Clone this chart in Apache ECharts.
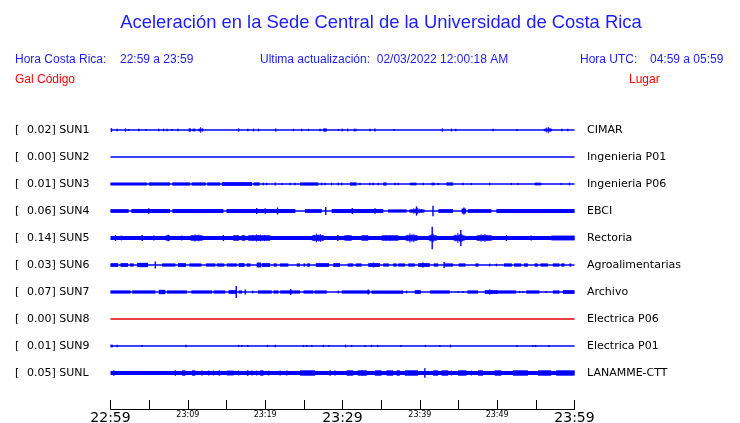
<!DOCTYPE html>
<html>
<head>
<meta charset="utf-8">
<script src="https://cdn.jsdelivr.net/npm/echarts@6/dist/echarts.min.js"></script>
<style>
  html, body { margin: 0; padding: 0; background: #fff; }
  #chart { width: 740px; height: 423px; }
</style>
</head>
<body>
<div id="chart"></div>
<script>
// time axis: minutes after 22:59 (hora Costa Rica)
let tickLabels = ['22:59', '', '23:09', '', '23:19', '', '23:29', '', '23:39', '', '23:49', '', '23:59']
let majorLabels = ['22:59', '23:29', '23:59']

let stationCodes = ['SUN1', 'SUN2', 'SUN3', 'SUN4', 'SUN5', 'SUN6', 'SUN7', 'SUN8', 'SUN9', 'SUNL']
let stationPlaces = ['CIMAR', 'Ingenieria P01', 'Ingenieria P06', 'EBCI', 'Rectoria',
  'Agroalimentarias', 'Archivo', 'Electrica P06', 'Electrica P01', 'LANAMME-CTT']
let peakGal = [0.02, 0.00, 0.01, 0.06, 0.14, 0.03, 0.07, 0.00, 0.01, 0.05]
let offlineStations = ['SUN8']

// background noise level of each trace (half amplitude, trace units)
let baseAmp = [2, 2, 2, 3, 7, 2, 2, 2, 2, 7]

// bursts: [start min, end min, half amplitude] or [min, half amplitude]
let sun1Bursts = [[0.13, 7], [0.86, 5], [1.94, 6], [2.37, 4], [3.66, 5], [4.6, 4], [6.24, 5], [6.88, 5],
  [7.31, 5], [7.96, 4], [8.73, 5], [10.1, 10.4, 6], [10.6, 11.0, 5], [11.4, 12.0, 12], [16.56, 6],
  [17.76, 5], [18.5, 5], [19.14, 5], [21.38, 6], [23.66, 4], [24.73, 5], [25.59, 4], [27.1, 5],
  [27.5, 27.96, 6], [29.46, 4], [29.98, 5], [30.67, 5], [31.53, 5], [31.74, 5], [33.55, 5], [34.19, 6],
  [36.69, 4], [42.92, 6], [44.09, 5], [44.65, 5], [49.46, 5], [52.56, 4], [56.1, 57.1, 12], [58.37, 5], [59.14, 5]]
let sun2Bursts = []
let sun3Bursts = [[0, 4.7, 6], [4.95, 7.7, 6], [8.0, 10.3, 6], [10.5, 12.3, 6], [12.5, 14.2, 6], [14.4, 18.3, 7],
  [18.5, 19.3, 6], [19.78, 5], [20.2, 5], [21.29, 6], [22.15, 4], [23.23, 5], [23.87, 5], [24.52, 26.88, 6],
  [27.31, 5], [27.74, 5], [28.6, 5], [29.46, 5], [29.89, 5], [30.97, 31.83, 6], [32.26, 5], [33.55, 5],
  [33.98, 5], [34.62, 5], [35.27, 35.7, 6], [36.77, 5], [37.2, 5], [38.71, 39.57, 5], [40.43, 5],
  [41.5, 41.94, 5], [42.37, 5], [43.44, 44.3, 6], [45.59, 5], [46.67, 4], [49.03, 5], [51.83, 4], [52.69, 4],
  [54.84, 55.7, 5], [58.28, 4], [59.35, 5]]
let sun4Bursts = [[0, 2.35, 7], [2.7, 7.7, 7], [4.95, 10], [8.0, 14.6, 7], [15.0, 23.9, 7], [18.9, 11], [20.0, 10],
  [21.6, 13], [25.16, 27.31, 7], [27.83, 15], [28.6, 35.27, 7], [31.27, 11], [34.2, 10], [35.9, 38.3, 6],
  [38.7, 40.6, 11], [39.57, 17], [41.7, 19], [42.4, 44.3, 7], [45.4, 46.0, 9], [45.7, 13], [46.2, 49.25, 7],
  [49.9, 60, 7]]
let sun5Bursts = [[0.65, 11], [1.42, 9], [4.1, 11], [5.6, 9], [7.2, 7.7, 15], [9.2, 9], [10.4, 11.9, 14], [14.6, 11],
  [15.9, 16.6, 11], [17.0, 17.4, 13], [17.85, 20.65, 13], [26.1, 27.6, 17], [29.4, 11], [30.3, 31.2, 11],
  [32.5, 33.3, 11], [35.1, 37.2, 11], [38.2, 39.7, 18], [41.2, 42.2, 17], [41.6, 42], [44.4, 45.8, 19],
  [45.3, 30], [47.4, 49.3, 15], [51.2, 11], [54.4, 9], [57.0, 60, 9]]
let sun6Bursts = [[0, 0.99, 7], [1.29, 2.28, 7], [2.5, 3.0, 6], [3.44, 4.86, 8], [5.8, 13], [6.67, 8.39, 6],
  [8.73, 9.76, 7], [10.2, 11.74, 6], [12.34, 13.55, 6], [13.76, 14.71, 6], [15.05, 16.34, 6], [16.56, 17.33, 7],
  [17.59, 18.11, 6], [18.9, 19.48, 9], [19.57, 20.65, 7], [21.08, 21.5, 6], [21.9, 23.0, 6], [24.08, 24.5, 6],
  [24.95, 25.16, 6], [25.38, 25.8, 6], [26.54, 28.26, 7], [28.8, 29.68, 7], [30.67, 31.4, 6], [31.7, 32.47, 6],
  [33.33, 34.84, 7], [34.0, 9], [35.27, 36.0, 6], [36.56, 37.0, 6], [37.2, 38.07, 6], [38.5, 39.35, 6],
  [39.78, 41.29, 7], [40.4, 9], [41.8, 42.37, 6], [43.14, 11], [43.23, 44.3, 6], [45.03, 45.9, 6],
  [47.18, 47.6, 6], [49.03, 5], [49.9, 5], [50.88, 51.9, 6], [52.17, 53.12, 6], [53.46, 53.98, 6],
  [54.84, 55.27, 6], [55.6, 56.56, 6], [57.2, 58.06, 6], [58.28, 58.71, 6], [59.35, 59.57, 6]]
let sun7Bursts = [[0, 2.58, 6], [2.8, 5.8, 6], [6.24, 7.1, 8], [7.3, 9.9, 6], [10.45, 13.12, 6], [13.33, 14.84, 6],
  [15.27, 16.34, 7], [16.26, 22], [16.56, 17.0, 6], [17.42, 9], [18.28, 18.5, 5], [19.05, 20.86, 6],
  [21.08, 21.72, 6], [21.94, 24.5, 6], [23.3, 11], [24.95, 26.24, 6], [26.37, 27.96, 6], [29.46, 5],
  [29.9, 33.55, 6], [33.33, 9], [33.76, 37.85, 6], [38.28, 5], [39.35, 40.13, 7], [41.29, 43.87, 6], [44.95, 4],
  [45.59, 4], [46.15, 47.53, 6], [48.39, 50.1, 7], [49.03, 9], [50.1, 52.47, 6], [52.9, 4], [53.33, 4],
  [53.76, 55.48, 6], [56.35, 4], [57.2, 58.06, 6], [58.5, 60, 7]]
let sun8Bursts = []
let sun9Bursts = [[0, 0.3, 5], [0.86, 5], [4.09, 4], [9.76, 5], [16.56, 4], [16.99, 4], [17.76, 4], [20.3, 4],
  [21.29, 5], [24.95, 4], [25.38, 4], [26.02, 4], [27.53, 4], [28.26, 4], [30.41, 5], [31.18, 4], [32.9, 4],
  [33.76, 4], [34.54, 4], [37.55, 4], [40.73, 4], [42.58, 4], [43.96, 5], [52.56, 4], [54.62, 4], [54.97, 4],
  [56.69, 4]]
let sunlBursts = [[0.43, 10], [8.39, 10], [9.25, 9.68, 10], [10.54, 10.97, 10], [11.83, 9], [12.69, 9], [13.33, 9],
  [13.98, 14.19, 10], [15.05, 15.91, 9], [16.56, 9], [17.63, 17.85, 10], [18.28, 9], [18.9, 9], [19.35, 19.78, 10],
  [20.43, 9], [21.94, 9], [22.8, 9], [24.52, 26.45, 10], [28.39, 10], [29.03, 9], [30.54, 31.4, 10],
  [32.04, 33.12, 11], [34.19, 35.05, 10], [35.7, 36.56, 10], [36.99, 37.42, 10], [38.07, 39.78, 10], [40.65, 18],
  [41.72, 42.37, 10], [42.8, 43.66, 10], [44.09, 9], [44.95, 46.02, 10], [46.67, 9], [47.53, 48.17, 10],
  [49.68, 50.54, 10], [52.04, 53.98, 10], [55.27, 56.99, 10], [57.63, 60, 10]]

let allBursts = [sun1Bursts, sun2Bursts, sun3Bursts, sun4Bursts, sun5Bursts,
  sun6Bursts, sun7Bursts, sun8Bursts, sun9Bursts, sunlBursts]

const SLOT = 100
const BLUE = '#0000ff'
const TEXT_BLUE = '#1c1cff'
const RED = '#ff0000'
// relative heights of the wiggles drawn inside a burst envelope
const WIGGLE = [1, 0.5, 0.85, 0.4, 0.95, 0.6, 0.75, 0.45]

let traceData = []
stationCodes.forEach((code, i) => {
  traceData.push([i, 0, 60, baseAmp[i]])
  allBursts[i].forEach(b => {
    if (b.length === 2) traceData.push([i, b[0], b[0], b[1]])
    else traceData.push([i, b[0], b[1], b[2]])
  })
})

function renderTrace(params, api) {
  let st = api.value(0)
  let c = st * SLOT
  let t0 = api.value(1), t1 = api.value(2), amp = api.value(3)
  let color = offlineStations.indexOf(stationCodes[st]) >= 0 ? '#e00000' : BLUE
  let p0 = api.coord([t0, c - amp])
  let p1 = api.coord([t1, c + amp])
  let yc = api.coord([0, c])[1]
  let h = Math.max(Math.abs(p1[1] - p0[1]), 1.3)
  let w = p1[0] - p0[0]
  // short strong packets: spindle shaped envelope filled with wiggles
  if (amp >= 11 && t1 - t0 > 0.2 && t1 - t0 < 3.5) {
    let hb = Math.abs(api.coord([0, c + baseAmp[st]])[1] - yc) + 0.6
    let hA = h / 2
    let xa = p0[0] + w * 0.3, xb = p0[0] + w * 0.55
    let kids = [{
      type: 'rect',
      shape: { x: p0[0], y: yc - hb, width: w, height: 2 * hb },
      style: { fill: color }
    }]
    let k = 0
    for (let x = p0[0]; x <= p1[0]; x += 1, k++) {
      let env
      if (x < xa) env = hb + (hA - hb) * (x - p0[0]) / (xa - p0[0])
      else if (x <= xb) env = hA
      else env = hA + (hb - hA) * (x - xb) / (p1[0] - xb)
      let e = Math.max(hb, env * WIGGLE[k % WIGGLE.length])
      kids.push({
        type: 'line',
        shape: { x1: x, y1: yc - e, x2: x, y2: yc + e },
        style: { stroke: color, lineWidth: 1 }
      })
    }
    return { type: 'group', children: kids }
  }
  let x = p0[0]
  if (w < 1.4) { x -= 0.7; w = 1.4 }
  return {
    type: 'rect',
    shape: { x: x, y: yc - h / 2, width: w, height: h },
    style: { fill: color }
  }
}

function renderLabels(params, api) {
  let st = api.value(0)
  let y = api.coord([0, st * SLOT])[1]
  let font = '11px "DejaVu Sans"'
  return {
    type: 'group',
    children: [
      { type: 'text', style: { text: '[', x: 15, y: y, font: font, fill: '#000', align: 'left', verticalAlign: 'middle' } },
      { type: 'text', style: { text: peakGal[st].toFixed(2) + '] ' + stationCodes[st], x: 27, y: y, font: font, fill: '#000', align: 'left', verticalAlign: 'middle' } },
      { type: 'text', style: { text: stationPlaces[st], x: 587, y: y, font: font, fill: '#000', align: 'left', verticalAlign: 'middle' } }
    ]
  }
}

let myChart = echarts.init(document.getElementById('chart'))

let headFont = '12px "Liberation Sans"'
let option = {
  animation: false,
  backgroundColor: '#fff',
  grid: { left: 110.5, right: 165.5, top: 116.5, bottom: 14, containLabel: false, outerBoundsMode: 'none' },
  xAxis: {
    type: 'value',
    min: 0,
    max: 60,
    interval: 5,
    splitLine: { show: false },
    axisLine: { onZero: false, lineStyle: { color: '#000', width: 1 } },
    axisTick: { inside: true, length: 9, lineStyle: { color: '#000', width: 1 } },
    axisLabel: {
      margin: 2,
      color: '#000',
      fontFamily: 'DejaVu Sans',
      formatter: v => {
        let lab = tickLabels[Math.round(v / 5)] || ''
        if (!lab) return ''
        return majorLabels.indexOf(lab) >= 0 ? '{big|' + lab + '}' : '{small|' + lab + '}'
      },
      rich: {
        big: { fontSize: 14, fontFamily: 'DejaVu Sans', color: '#000' },
        small: { fontSize: 8, fontFamily: 'DejaVu Sans', color: '#000' }
      }
    }
  },
  yAxis: {
    type: 'value',
    inverse: true,
    min: -50,
    max: 1033.3,
    show: false
  },
  graphic: [
    { type: 'text', x: 381, y: 23, style: { text: 'Aceleración en la Sede Central de la Universidad de Costa Rica', font: '18.4px "Liberation Sans"', fill: TEXT_BLUE, align: 'center', verticalAlign: 'middle' } },
    { type: 'text', x: 15, y: 60, style: { text: 'Hora Costa Rica:', font: headFont, fill: TEXT_BLUE, verticalAlign: 'middle' } },
    { type: 'text', x: 120, y: 60, style: { text: '22:59 a 23:59', font: headFont, fill: TEXT_BLUE, verticalAlign: 'middle' } },
    { type: 'text', x: 260, y: 60, style: { text: 'Ultima actualización:  02/03/2022 12:00:18 AM', font: headFont, fill: TEXT_BLUE, verticalAlign: 'middle' } },
    { type: 'text', x: 580, y: 60, style: { text: 'Hora UTC:', font: headFont, fill: TEXT_BLUE, verticalAlign: 'middle' } },
    { type: 'text', x: 650, y: 60, style: { text: '04:59 a 05:59', font: headFont, fill: TEXT_BLUE, verticalAlign: 'middle' } },
    { type: 'text', x: 15, y: 80, style: { text: 'Gal', font: headFont, fill: RED, verticalAlign: 'middle' } },
    { type: 'text', x: 37, y: 80, style: { text: 'Código', font: headFont, fill: RED, verticalAlign: 'middle' } },
    { type: 'text', x: 629, y: 80, style: { text: 'Lugar', font: headFont, fill: RED, verticalAlign: 'middle' } }
  ],
  series: [
    {
      type: 'custom',
      clip: false,
      renderItem: renderTrace,
      data: traceData
    },
    {
      type: 'custom',
      clip: false,
      renderItem: renderLabels,
      data: stationCodes.map((c, i) => [i])
    }
  ]
}

myChart.setOption(option)
</script>
</body>
</html>
